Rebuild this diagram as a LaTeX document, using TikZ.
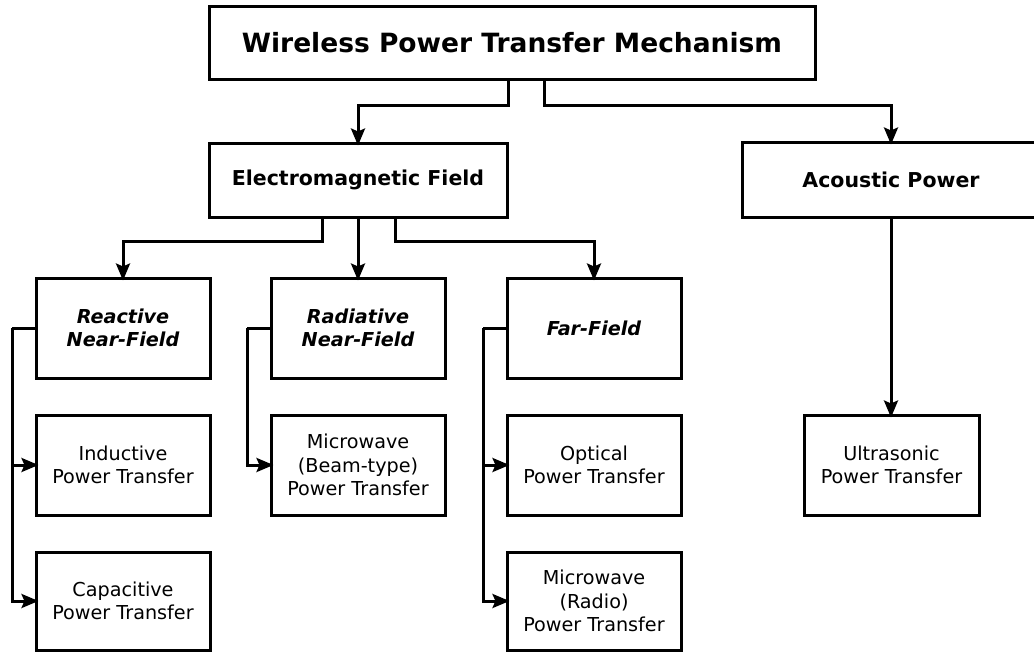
\documentclass[tikz,border=0pt]{standalone}
\usepackage{fontspec}
\setmainfont{DejaVu Sans}
\usetikzlibrary{arrows.meta}
\begin{document}
\begin{tikzpicture}[x=1pt,y=-1pt,
  box/.style={draw=black,line width=3pt,rectangle,inner sep=0pt,align=center,minimum width=174pt,minimum height=100pt},
  titlebox/.style={box,minimum width=606pt,minimum height=73pt,font=\fontsize{26.5}{32}\selectfont\bfseries},
  catbox/.style={box,minimum width=298pt,minimum height=74pt,font=\fontsize{20.5}{24}\selectfont\bfseries},
  fieldbox/.style={box,font=\fontsize{19.2}{23.3}\selectfont\bfseries\itshape},
  leafbox/.style={box,font=\fontsize{19.2}{23.3}\selectfont},
  arr/.style={draw=black,line width=3pt,-{Stealth[length=17pt,width=14pt,inset=3pt]},shorten >=-4pt},
  conn/.style={draw=black,line width=3pt}]
\clip (0,0) rectangle (1034,651);
\fill[white] (0,0) rectangle (1034,651);
\node[titlebox] (top) at (512,43) {Wireless Power Transfer Mechanism};
\node[catbox] (em) at (358,180) {Electromagnetic Field};
\node[catbox,minimum height=75pt] (ac) at (891,179.5) {Acoustic Power};
\node[fieldbox] (rea) at (123,328) {Reactive\\Near-Field};
\node[fieldbox] (rad) at (358,328) {Radiative\\Near-Field};
\node[fieldbox] (far) at (594,328) {Far-Field};
\node[leafbox] (ind) at (123,465) {Inductive\\Power Transfer};
\node[leafbox] (mwb) at (358,465) {Microwave\\(Beam-type)\\Power Transfer};
\node[leafbox] (opt) at (594,465) {Optical\\Power Transfer};
\node[leafbox,minimum width=175pt] (ult) at (891.5,465) {Ultrasonic\\Power Transfer};
\node[leafbox,minimum height=98pt] (cap) at (123,601) {Capacitive\\Power Transfer};
\node[leafbox,minimum height=98pt] (mwr) at (594,601) {Microwave\\(Radio)\\Power Transfer};
% top level connectors
\coordinate (t1) at (508,105);
\coordinate (t2) at (544,105);
\draw[arr] (top.south -| t1) -- (t1) -| (em.north);
\draw[arr] (top.south -| t2) -- (t2) -| (ac.north);
% EM connectors
\coordinate (e1) at (322,241);
\coordinate (e3) at (395,241);
\draw[arr] (em.south -| e1) -- (e1) -| (rea.north);
\draw[arr] (em.south) -- (rad.north);
\draw[arr] (em.south -| e3) -- (e3) -| (far.north);
% acoustic
\draw[arr] (ac.south) -- (ac.south |- ult.north);
% spurs
\coordinate (s1) at (12,328);
\coordinate (s2) at (247,328);
\coordinate (s3) at (483,328);
\draw[conn] (rea.west) -- (s1);
\draw[arr] (s1) |- (ind.west);
\draw[arr] (s1) |- (cap.west);
\draw[conn] (rad.west) -- (s2);
\draw[arr] (s2) |- (mwb.west);
\draw[conn] (far.west) -- (s3);
\draw[arr] (s3) |- (opt.west);
\draw[arr] (s3) |- (mwr.west);
\end{tikzpicture}
\end{document}
